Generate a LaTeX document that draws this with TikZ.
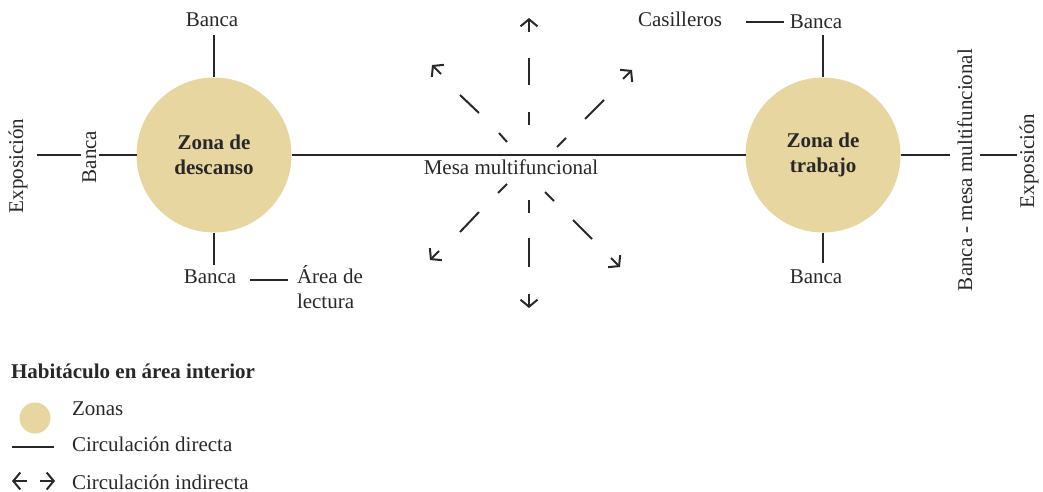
\documentclass[tikz,border=0pt]{standalone}
\usepackage{fontspec}
\setmainfont{Liberation Serif}
\usetikzlibrary{arrows.meta,calc}
\definecolor{zonefill}{RGB}{231,214,160}
\definecolor{ink}{RGB}{40,40,40}
\begin{document}
\begin{tikzpicture}[x=1pt,y=-1pt,
  every node/.style={text=ink, font=\fontsize{21}{25}\selectfont, inner sep=0pt, outer sep=0pt},
  conn/.style={draw=ink, line width=2pt},
  zone/.style={circle, fill=zonefill, minimum size=155pt, align=center, font=\fontsize{21}{24.5}\selectfont\bfseries},
  lbl/.style={anchor=base},
  vlbl/.style={anchor=base, rotate=90},
  dsh/.style={draw=ink, line width=2pt},
  tipar/.style={draw=ink, line width=2pt, -{Straight Barb[length=7pt,width=17pt,line width=2pt]}}
]
\useasboundingbox (0,0) rectangle (1043,492);

% zones
\node[zone] (zd) at (214,155) {Zona de\\descanso};
\node[zone] (zt) at (823,155) {Zona de\\trabajo};

% left labels
\node[lbl] (bancaTL) at (212,27) {Banca};
\node[lbl] (bancaBL) at (210,283) {Banca};
\node[anchor=base west, align=left] (areaL) at (297,308) {Área de\\lectura};
\node[vlbl] (bancaL) at (96,157) {Banca};
\node[vlbl] (expoL) at (23,166) {Exposición};

% centre
\node[lbl] (mesa) at (511,174) {Mesa multifuncional};

% right labels
\node[lbl] (casilleros) at (680,27) {Casilleros};
\node[lbl] (bancaTR) at (816,29) {Banca};
\node[lbl] (bancaBR) at (816,283) {Banca};
\node[vlbl] (bmm) at (972,170) {Banca - mesa multifuncional};
\node[vlbl] (expoR) at (1034,161) {Exposición};

% direct circulation
\draw[conn, shorten >=8pt] (zd.north) -- (zd.north |- bancaTL.south);
\draw[conn, shorten >=4pt] (zd.south) -- (zd.south |- bancaBL.north);
\draw[conn, shorten >=3pt] (zd.west) -- (bancaL.south |- zd.west);
\draw[conn, shorten <=1pt, shorten >=10pt] (bancaL.north |- zd.west) -- (expoL.south |- zd.west);
\draw[conn] (zd.east) -- (zt.west);
\draw[conn, shorten <=14pt, shorten >=9pt] (bancaBL.east |- 0,280) -- (areaL.west |- 0,280);
\draw[conn, shorten >=6pt] (zt.north) -- (zt.north |- bancaTR.south);
\draw[conn, shorten >=6pt] (zt.south) -- (zt.south |- bancaBR.north);
\draw[conn, shorten <=24pt, shorten >=6pt] (casilleros.east |- 0,22) -- (bancaTR.west |- 0,22);
\draw[conn, shorten >=7pt] (zt.east) -- (bmm.north |- zt.east);
\draw[conn, shorten <=8pt, shorten >=2pt] (bmm.south |- zt.east) -- (expoR.north |- zt.east);

% indirect circulation (dashed arrows)
\coordinate (tN) at (529,18);
\coordinate (tS) at (529,308);
\coordinate (tNW) at (432,65);
\coordinate (tNE) at (632,70);
\coordinate (tSW) at (430,260);
\coordinate (tSE) at (620,267);
\draw[dsh] (529,125) -- (529,112) (529,85) -- (529,58);
\draw[tipar] (529,32) -- (tN);
\draw[dsh] (529,200) -- (529,213) (529,238) -- (529,267);
\draw[tipar] (529,294) -- (tS);
\draw[dsh] (507,142) -- (499,133) (479,113) -- (460,95);
\draw[tipar] (441,74) -- (tNW);
\draw[dsh] (557,147) -- (566,138) (585,119) -- (604,100);
\draw[tipar] (623,79) -- (tNE);
\draw[dsh] (507,184) -- (498,193) (479,212) -- (460,232);
\draw[tipar] (439,251) -- (tSW);
\draw[dsh] (545,192) -- (554,201) (573,220) -- (592,239);
\draw[tipar] (611,258) -- (tSE);

% legend
\node[anchor=base west, font=\fontsize{21}{25}\selectfont\bfseries] (legT) at (11,378) {Habitáculo en área interior};
\node[circle, fill=zonefill, minimum size=31pt] (legC) at (35,418) {};
\node[anchor=base west] (legZ) at (72,415) {Zonas};
\coordinate (legL1) at (12,447);
\coordinate (legL2) at (54,447);
\draw[conn] (legL1) -- (legL2);
\node[anchor=base west] (legD) at (72,451) {Circulación directa};
\coordinate (legA0) at (27,481);
\coordinate (legA1) at (12,481);
\coordinate (legB0) at (40,481);
\coordinate (legB1) at (55,481);
\draw[tipar] (legA0) -- (legA1);
\draw[tipar] (legB0) -- (legB1);
\node[anchor=base west] (legI) at (72,489) {Circulación indirecta};
\end{tikzpicture}
\end{document}
